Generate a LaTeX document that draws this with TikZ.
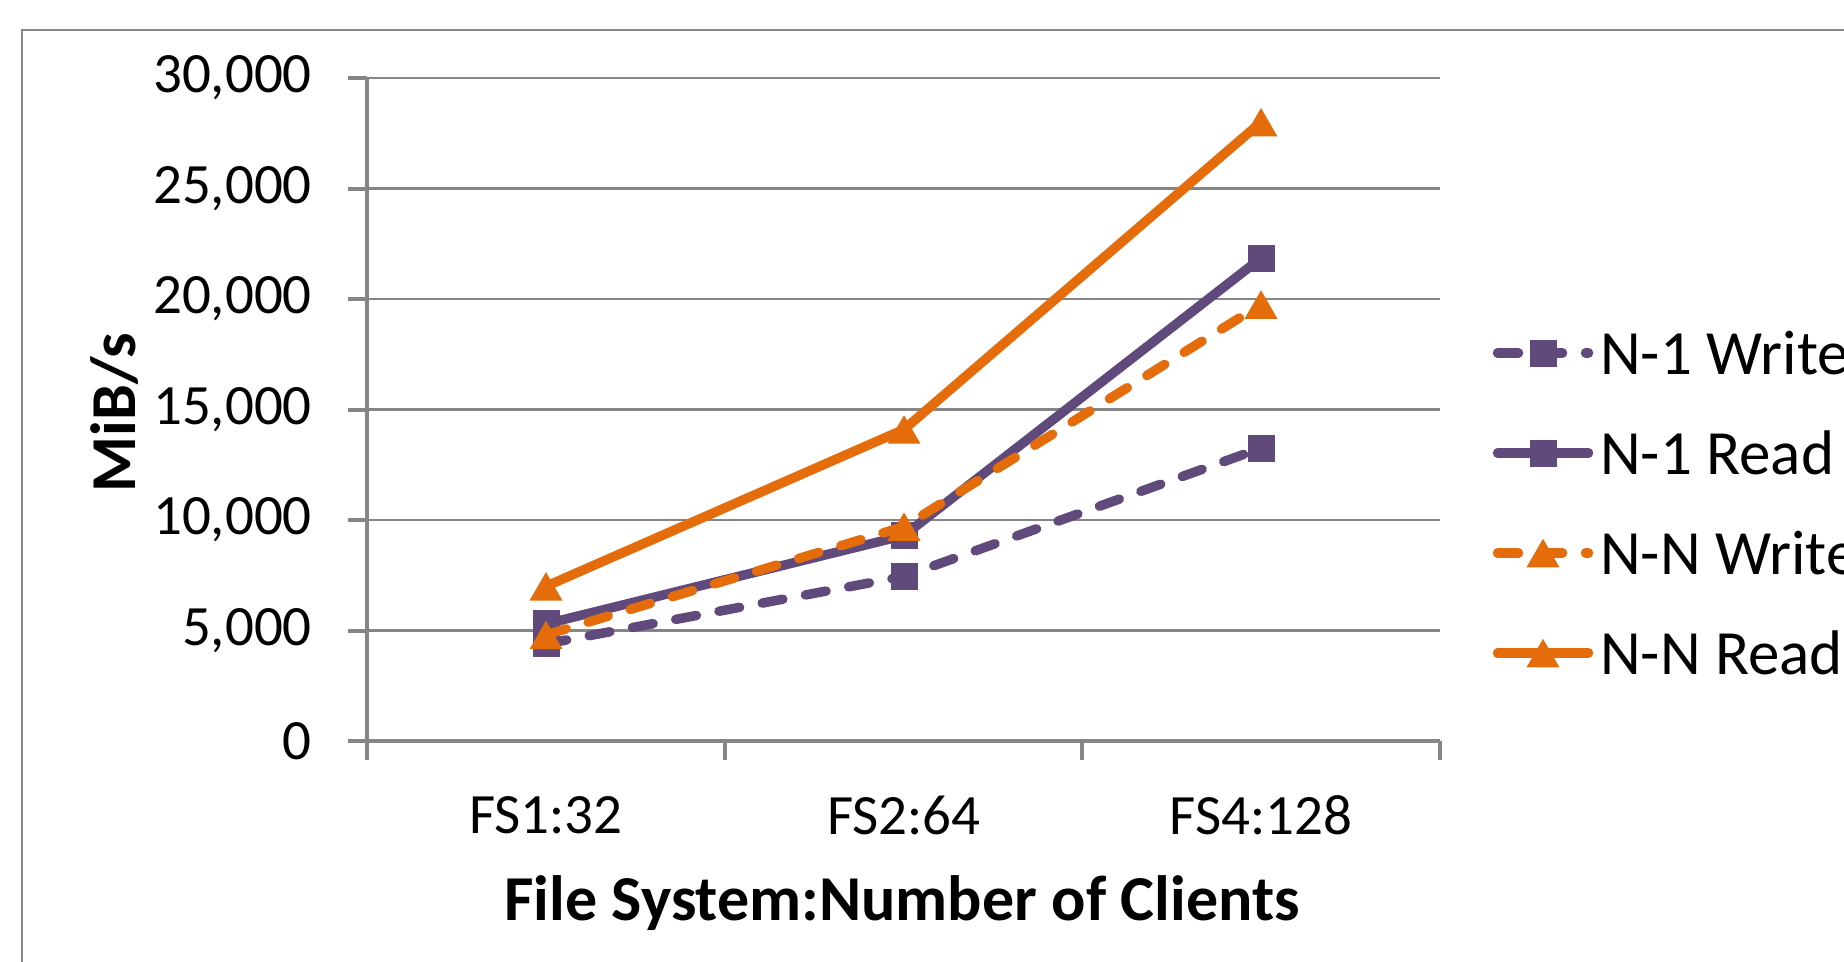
\documentclass[tikz,border=0pt]{standalone}
\usepackage{fontspec}
\setmainfont{Carlito}
\usetikzlibrary{shapes.geometric}
\definecolor{ppl}{HTML}{604A7B}
\definecolor{org}{HTML}{E46C0A}
\definecolor{gridc}{HTML}{868686}
\begin{document}
\begin{tikzpicture}[x=1pt,y=-1pt,
  lbl/.style={font=\fontsize{57pt}{60pt}\selectfont, inner sep=0pt},
  leg/.style={font=\fontsize{63pt}{66pt}\selectfont, inner sep=0pt},
  ttl/.style={font=\fontsize{64pt}{68pt}\selectfont\bfseries, inner sep=0pt},
  sqmark/.style={rectangle, minimum size=27pt, inner sep=0pt, fill=#1, draw=none},
  trimark/.style={regular polygon, regular polygon sides=3, minimum size=38pt, inner sep=0pt, fill=#1, draw=none, yshift=-4.75pt},
  series/.style={line width=9.5pt, draw=#1, line join=round},
  dsh/.style={dash pattern=on 21pt off 23pt, line cap=round},
  gridline/.style={draw=gridc, line width=2.5pt},
  axisline/.style={draw=gridc, line width=4pt}]
\useasboundingbox (0,0) rectangle (1844,961);
\clip (0,0) rectangle (1844,961);
\fill[white] (0,0) rectangle (1844,961);
% outer frame
\draw[draw=gridc, line width=2.5pt] (22,30) rectangle (1900,1000);
% grid
\foreach \yy in {630.5,520,409.5,299,188.5,78}{
  \draw[gridline] (367,\yy) -- (1440,\yy);
}
% axes
\coordinate (yaxtop) at (367,78);
\coordinate (orig) at (367,741);
\coordinate (xaxend) at (1440,741);
\draw[axisline] (yaxtop) -- (orig) -- (xaxend);
\foreach \yy in {741,630.5,520,409.5,299,188.5,78}{
  \draw[axisline] (348,\yy) -- (367,\yy);
}
\foreach \xx in {367,724.7,1082.3,1440}{
  \draw[axisline] (\xx,741) -- (\xx,760);
}
% y tick labels
\node[lbl, anchor=east] (t0) at (312,741) {0};
\node[lbl, anchor=east] (t1) at (312,630.5) {5,000};
\node[lbl, anchor=east] (t2) at (312,520) {10,000};
\node[lbl, anchor=east] (t3) at (312,409.5) {15,000};
\node[lbl, anchor=east] (t4) at (312,299) {20,000};
\node[lbl, anchor=east] (t5) at (312,188.5) {25,000};
\node[lbl, anchor=east] (t6) at (312,78) {30,000};
% x labels
\node[lbl] (c1) at (546,815) {FS1:32};
\node[lbl] (c2) at (904,815) {FS2:64};
\node[lbl] (c3) at (1261,815) {FS4:128};
% axis titles
\node[ttl] (xt) at (902,903) {File System:Number of Clients};
\node[ttl, rotate=90] (yt) at (114,413) {MiB/s};
% data points
\coordinate (wa) at (546,643.8); \coordinate (wb) at (904,576.4); \coordinate (wc) at (1261,448.2);
\coordinate (ra) at (546,623.9); \coordinate (rb) at (904,535.5); \coordinate (rc) at (1261,258.1);
\coordinate (nwa) at (546,634.9); \coordinate (nwb) at (904,526.6); \coordinate (nwc) at (1261,304.5);
\coordinate (nra) at (546,586.3); \coordinate (nrb) at (904,429.4); \coordinate (nrc) at (1261,122.2);
% N-1 Write
\draw[series=ppl, dsh] (wa) -- (wb) -- (wc);
\foreach \p in {wa,wb,wc}{ \node[sqmark=ppl] at (\p) {}; }
% N-1 Read
\draw[series=ppl, line cap=round] (ra) -- (rb) -- (rc);
\foreach \p in {ra,rb,rc}{ \node[sqmark=ppl] at (\p) {}; }
% N-N Write
\draw[series=org, dsh] (nwa) -- (nwb) -- (nwc);
\foreach \p in {nwa,nwb,nwc}{ \node[trimark=org] at (\p) {}; }
% N-N Read
\draw[series=org, line cap=round] (nra) -- (nrb) -- (nrc);
\foreach \p in {nra,nrb,nrc}{ \node[trimark=org] at (\p) {}; }
% legend
\coordinate (l1a) at (1497.5,353); \coordinate (l1b) at (1588.5,353);
\coordinate (l2a) at (1497.5,453); \coordinate (l2b) at (1588.5,453);
\coordinate (l3a) at (1497.5,553); \coordinate (l3b) at (1588.5,553);
\coordinate (l4a) at (1497.5,653); \coordinate (l4b) at (1588.5,653);
\draw[series=ppl, dsh] (l1a) -- (l1b);
\node[sqmark=ppl] (m1) at (1543,353) {};
\draw[series=ppl, line cap=round] (l2a) -- (l2b);
\node[sqmark=ppl] (m2) at (1543,453) {};
\draw[series=org, dsh] (l3a) -- (l3b);
\node[trimark=org] (m3) at (1543,553) {};
\draw[series=org, line cap=round] (l4a) -- (l4b);
\node[trimark=org] (m4) at (1543,653) {};
\node[leg, anchor=west] (g1) at (1600,353) {N-1 Write};
\node[leg, anchor=west] (g2) at (1600,453) {N-1 Read};
\node[leg, anchor=west] (g3) at (1600,553) {N-N Write};
\node[leg, anchor=west] (g4) at (1600,653) {N-N Read};
\end{tikzpicture}
\end{document}
